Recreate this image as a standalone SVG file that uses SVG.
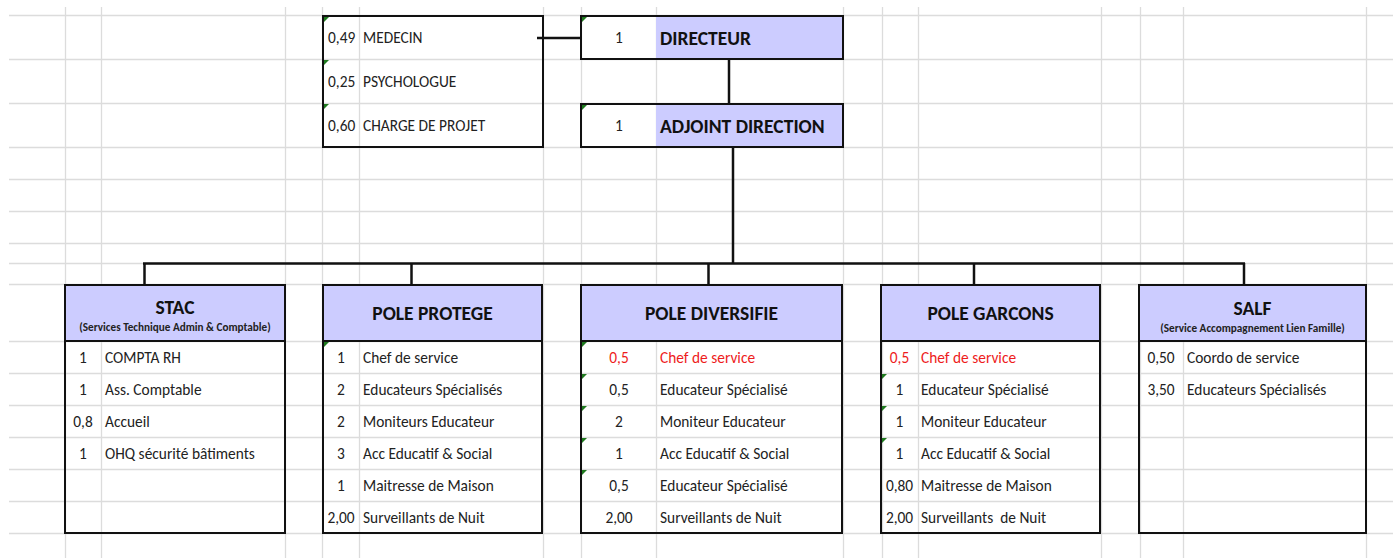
<svg xmlns="http://www.w3.org/2000/svg" width="1393" height="558" viewBox="0 0 1393 558">
<style>
.grid line{stroke:#dcdcdc;stroke-width:1.3}
.box{fill:none;stroke:#111;stroke-width:2}
.hdr{fill:#ccccff}
.t{font-family:"Carlito","Lato","Liberation Sans",sans-serif;font-size:15.4px;fill:#222}
.n{text-anchor:middle}
.red{fill:#ee1c1c}
.title{font-family:"Carlito","Lato","Liberation Sans",sans-serif;font-size:19.5px;font-weight:bold;fill:#111}
.sub{font-family:"Carlito","Lato","Liberation Sans",sans-serif;font-size:11.2px;font-weight:bold;fill:#222;text-anchor:middle}
.c{text-anchor:middle}
.mk{fill:#1f7a1f}
.conn line{stroke:#111;stroke-width:2.5}
</style>
<rect width="1393" height="558" fill="#ffffff"/>
<g class="grid">
<line x1="65.5" y1="7" x2="65.5" y2="558"/>
<line x1="101.5" y1="7" x2="101.5" y2="558"/>
<line x1="285.5" y1="7" x2="285.5" y2="558"/>
<line x1="322.5" y1="7" x2="322.5" y2="558"/>
<line x1="359.5" y1="7" x2="359.5" y2="558"/>
<line x1="543.5" y1="7" x2="543.5" y2="558"/>
<line x1="581.5" y1="7" x2="581.5" y2="558"/>
<line x1="656.5" y1="7" x2="656.5" y2="558"/>
<line x1="843.5" y1="7" x2="843.5" y2="558"/>
<line x1="882.5" y1="7" x2="882.5" y2="558"/>
<line x1="918.5" y1="7" x2="918.5" y2="558"/>
<line x1="1101.5" y1="7" x2="1101.5" y2="558"/>
<line x1="1140.5" y1="7" x2="1140.5" y2="558"/>
<line x1="1183.5" y1="7" x2="1183.5" y2="558"/>
<line x1="1366.5" y1="7" x2="1366.5" y2="558"/>
<line x1="9" y1="15.5" x2="1393" y2="15.5"/>
<line x1="9" y1="59.5" x2="1393" y2="59.5"/>
<line x1="9" y1="103.5" x2="1393" y2="103.5"/>
<line x1="9" y1="147.5" x2="1393" y2="147.5"/>
<line x1="9" y1="179.5" x2="1393" y2="179.5"/>
<line x1="9" y1="211.5" x2="1393" y2="211.5"/>
<line x1="9" y1="243.5" x2="1393" y2="243.5"/>
<line x1="9" y1="263.5" x2="1393" y2="263.5"/>
<line x1="9" y1="284.5" x2="1393" y2="284.5"/>
<line x1="9" y1="341.5" x2="1393" y2="341.5"/>
<line x1="9" y1="373.5" x2="1393" y2="373.5"/>
<line x1="9" y1="405.5" x2="1393" y2="405.5"/>
<line x1="9" y1="437.5" x2="1393" y2="437.5"/>
<line x1="9" y1="469.5" x2="1393" y2="469.5"/>
<line x1="9" y1="501.5" x2="1393" y2="501.5"/>
<line x1="9" y1="533.5" x2="1393" y2="533.5"/>
</g>

<g id="conseil">
<rect class="box" x="323" y="16" width="220" height="131"/>
<polygon class="mk" points="324,17 329,17 324,22"/>
<polygon class="mk" points="324,60 329,60 324,65"/>
<polygon class="mk" points="324,104 329,104 324,109"/>
<text class="t" x="328" y="43">0,49</text><text class="t" x="363" y="43">MEDECIN</text>
<text class="t" x="328" y="87">0,25</text><text class="t" x="363" y="87">PSYCHOLOGUE</text>
<text class="t" x="328" y="131">0,60</text><text class="t" x="363" y="131">CHARGE DE PROJET</text>
</g>

<g id="directeur">
<rect class="hdr" x="656" y="16" width="187" height="43"/>
<rect class="box" x="581" y="16" width="262" height="43"/>
<polygon class="mk" points="582,17 587,17 582,22"/>
<text class="t n" x="619" y="43">1</text>
<text class="title" x="660" y="44.5">DIRECTEUR</text>
</g>

<g id="adjoint">
<rect class="hdr" x="656" y="104" width="187" height="43"/>
<rect class="box" x="581" y="104" width="262" height="43"/>
<polygon class="mk" points="582,105 587,105 582,110"/>
<text class="t n" x="619" y="131">1</text>
<text class="title" x="660" y="132.5">ADJOINT DIRECTION</text>
</g>

<g id="stac">
<rect class="hdr" x="65" y="285" width="220" height="56"/>
<rect class="box" x="65" y="285" width="220" height="248"/>
<line x1="65" y1="341" x2="285" y2="341" stroke="#111" stroke-width="2"/>
<text class="title c" x="175" y="313.5">STAC</text>
<text class="sub" x="175" y="331">(Services Technique Admin &amp; Comptable)</text>
<text class="t n" x="83" y="362.5">1</text><text class="t" x="105" y="362.5">COMPTA RH</text>
<text class="t n" x="83" y="394.5">1</text><text class="t" x="105" y="394.5">Ass. Comptable</text>
<text class="t n" x="83" y="426.5">0,8</text><text class="t" x="105" y="426.5">Accueil</text>
<text class="t n" x="83" y="458.5">1</text><text class="t" x="105" y="458.5">OHQ sécurité bâtiments</text>
</g>

<g id="pole-protege">
<rect class="hdr" x="323" y="285" width="219" height="56"/>
<rect class="box" x="323" y="285" width="219" height="248"/>
<line x1="323" y1="341" x2="542" y2="341" stroke="#111" stroke-width="2"/>
<polygon class="mk" points="324,342 329,342 324,347"/>
<text class="title c" x="432.5" y="320">POLE PROTEGE</text>
<text class="t n" x="341" y="362.5">1</text><text class="t" x="363" y="362.5">Chef de service</text>
<text class="t n" x="341" y="394.5">2</text><text class="t" x="363" y="394.5">Educateurs Spécialisés</text>
<text class="t n" x="341" y="426.5">2</text><text class="t" x="363" y="426.5">Moniteurs Educateur</text>
<text class="t n" x="341" y="458.5">3</text><text class="t" x="363" y="458.5">Acc Educatif &amp; Social</text>
<text class="t n" x="341" y="490.5">1</text><text class="t" x="363" y="490.5">Maitresse de Maison</text>
<text class="t n" x="341" y="522.5">2,00</text><text class="t" x="363" y="522.5">Surveillants de Nuit</text>
</g>

<g id="pole-diversifie">
<rect class="hdr" x="581" y="285" width="261" height="56"/>
<rect class="box" x="581" y="285" width="261" height="248"/>
<line x1="581" y1="341" x2="842" y2="341" stroke="#111" stroke-width="2"/>
<polygon class="mk" points="582,342 587,342 582,347"/>
<polygon class="mk" points="582,374 587,374 582,379"/>
<polygon class="mk" points="582,406 587,406 582,411"/>
<polygon class="mk" points="582,438 587,438 582,443"/>
<polygon class="mk" points="582,470 587,470 582,475"/>
<text class="title c" x="711.5" y="320">POLE DIVERSIFIE</text>
<text class="t n red" x="619" y="362.5">0,5</text><text class="t red" x="660" y="362.5">Chef de service</text>
<text class="t n" x="619" y="394.5">0,5</text><text class="t" x="660" y="394.5">Educateur Spécialisé</text>
<text class="t n" x="619" y="426.5">2</text><text class="t" x="660" y="426.5">Moniteur Educateur</text>
<text class="t n" x="619" y="458.5">1</text><text class="t" x="660" y="458.5">Acc Educatif &amp; Social</text>
<text class="t n" x="619" y="490.5">0,5</text><text class="t" x="660" y="490.5">Educateur Spécialisé</text>
<text class="t n" x="619" y="522.5">2,00</text><text class="t" x="660" y="522.5">Surveillants de Nuit</text>
</g>

<g id="pole-garcons">
<rect class="hdr" x="881" y="285" width="219" height="56"/>
<rect class="box" x="881" y="285" width="219" height="248"/>
<line x1="881" y1="341" x2="1100" y2="341" stroke="#111" stroke-width="2"/>
<polygon class="mk" points="882,374 887,374 882,379"/>
<polygon class="mk" points="882,406 887,406 882,411"/>
<polygon class="mk" points="882,438 887,438 882,443"/>
<text class="title c" x="990.5" y="320">POLE GARCONS</text>
<text class="t n red" x="899.5" y="362.5">0,5</text><text class="t red" x="921" y="362.5">Chef de service</text>
<text class="t n" x="899.5" y="394.5">1</text><text class="t" x="921" y="394.5">Educateur Spécialisé</text>
<text class="t n" x="899.5" y="426.5">1</text><text class="t" x="921" y="426.5">Moniteur Educateur</text>
<text class="t n" x="899.5" y="458.5">1</text><text class="t" x="921" y="458.5">Acc Educatif &amp; Social</text>
<text class="t n" x="899.5" y="490.5">0,80</text><text class="t" x="921" y="490.5">Maitresse de Maison</text>
<text class="t n" x="899.5" y="522.5">2,00</text><text class="t" x="921" y="522.5" xml:space="preserve">Surveillants  de Nuit</text>
</g>

<g id="salf">
<rect class="hdr" x="1139" y="285" width="227" height="56"/>
<rect class="box" x="1139" y="285" width="227" height="248"/>
<line x1="1139" y1="341" x2="1366" y2="341" stroke="#111" stroke-width="2"/>
<text class="title c" x="1252.5" y="314.5">SALF</text>
<text class="sub" x="1252.5" y="331.5">(Service Accompagnement Lien Famille)</text>
<text class="t n" x="1161" y="362.5">0,50</text><text class="t" x="1187" y="362.5">Coordo de service</text>
<text class="t n" x="1161" y="394.5">3,50</text><text class="t" x="1187" y="394.5">Educateurs Spécialisés</text>
</g>

<g class="conn" id="connectors">
<line x1="537" y1="38" x2="581" y2="38"/>
<line x1="729" y1="59" x2="729" y2="104"/>
<line x1="733" y1="147" x2="733" y2="263.5"/>
<line x1="143" y1="263.5" x2="1245" y2="263.5"/>
<line x1="144.5" y1="263" x2="144.5" y2="285"/>
<line x1="411.5" y1="263" x2="411.5" y2="285"/>
<line x1="708.5" y1="263" x2="708.5" y2="285"/>
<line x1="974" y1="263" x2="974" y2="285"/>
<line x1="1244" y1="263" x2="1244" y2="285"/>
</g>
</svg>
